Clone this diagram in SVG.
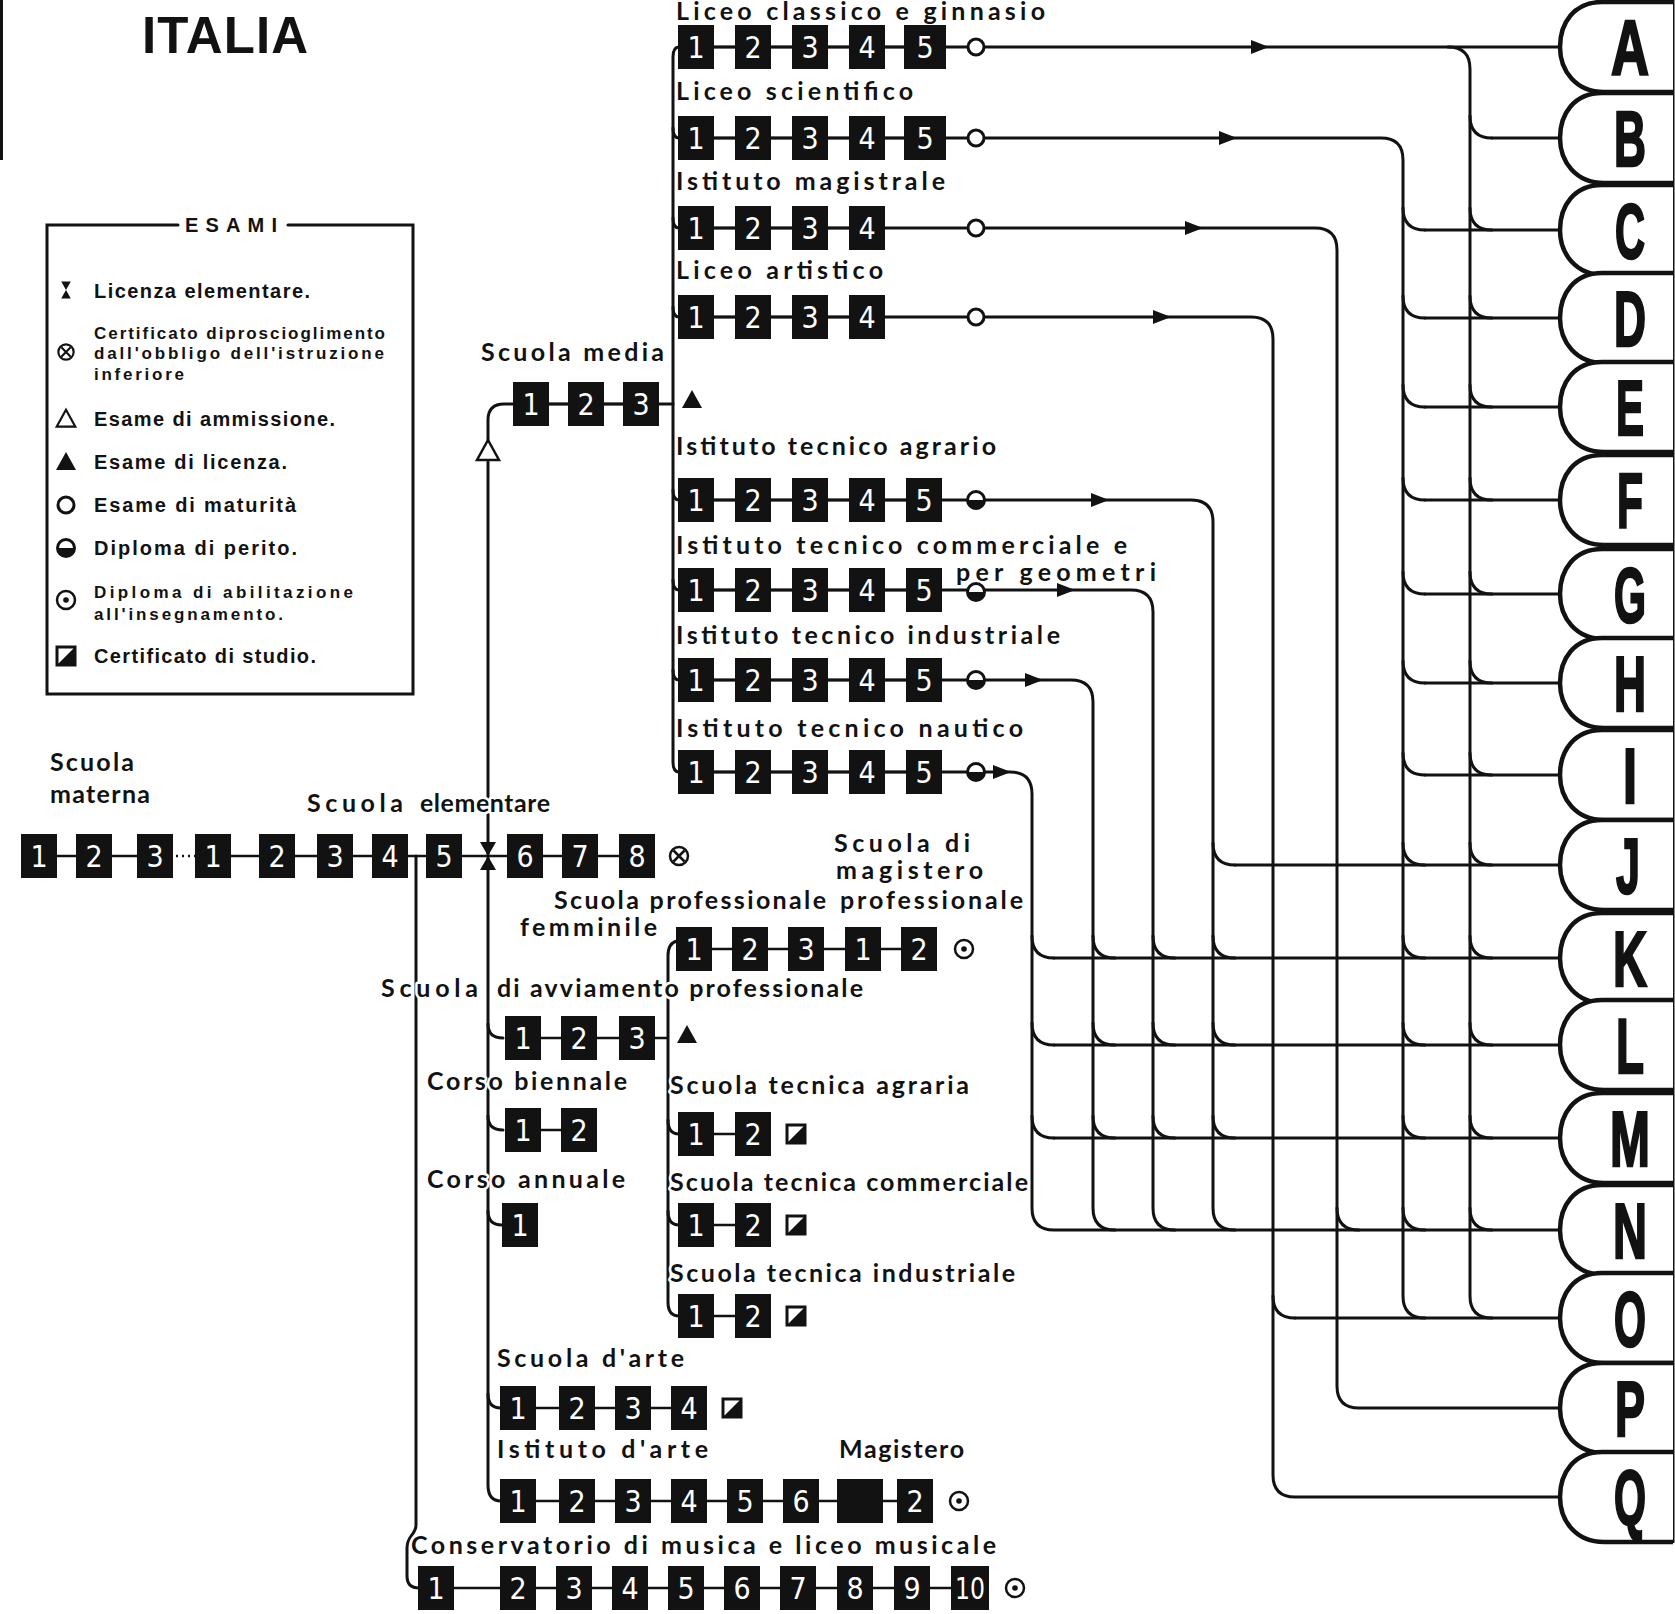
<svg xmlns="http://www.w3.org/2000/svg" xmlns:xlink="http://www.w3.org/1999/xlink" width="1675" height="1614" viewBox="0 0 1675 1614">
<style>
.b{fill:#121212}
.n{fill:#fff;font-family:"Liberation Sans Narrow","DejaVu Sans Condensed","Liberation Sans",sans-serif;font-size:30px;text-anchor:middle}
.l{fill:#121212;font-family:"Lato","Liberation Sans",sans-serif;font-weight:bold;font-size:25px;paint-order:stroke;stroke:#fff;stroke-width:5px;stroke-linejoin:round}
.lg{fill:#121212;font-family:"Liberation Sans",sans-serif;font-weight:bold;font-size:20px}
.lgs{fill:#121212;font-family:"Liberation Sans",sans-serif;font-weight:bold;font-size:17px}
.c{fill:none;stroke:#121212;stroke-width:3;stroke-linecap:round}
.k{fill:none;stroke:#121212;stroke-width:2.5}
.tab{fill:#fff;stroke:#121212;stroke-width:4.5}
.tl{fill:#121212;stroke:#121212;stroke-width:2.5;font-family:"Liberation Sans",sans-serif;font-weight:bold;font-size:78px;text-anchor:middle}
</style>
<defs>
<circle id="mat" r="8" fill="#fff" stroke="#121212" stroke-width="3"/>
<g id="per"><circle r="8.5" fill="#fff" stroke="#121212" stroke-width="3"/><path d="M-8.5,0 A8.5,8.5 0 0 0 8.5,0 Z" fill="#121212"/></g>
<g id="abi"><circle r="9" fill="#fff" stroke="#121212" stroke-width="2.5"/><circle r="2.8" fill="#121212"/></g>
<g id="pro"><circle r="9" fill="#fff" stroke="#121212" stroke-width="2.5"/><path d="M-5.5,-5.5 L5.5,5.5 M5.5,-5.5 L-5.5,5.5" stroke="#121212" stroke-width="2.5"/></g>
<g id="cer"><rect x="-9" y="-9" width="18" height="18" fill="#fff" stroke="#121212" stroke-width="3"/><path d="M9,-9 L9,9 L-9,9 Z" fill="#121212"/></g>
<path id="amm" d="M0,-11 L11,9 L-11,9 Z" fill="#fff" stroke="#121212" stroke-width="2.5"/>
<path id="lic" d="M0,-10 L10,8 L-10,8 Z" fill="#121212"/>
<path id="hg" d="M-8,-14 H8 L0,0 Z M-8,14 H8 L0,0 Z" fill="#121212"/>
<path id="ar" d="M-9,-7 L9,0 L-9,7 Z" fill="#121212"/>
</defs>
<rect width="1675" height="1614" fill="#fff"/>
<line x1="1.5" y1="0" x2="1.5" y2="160" stroke="#121212" stroke-width="3"/>

<g id="title"><text x="142" y="53" font-family="Liberation Sans,sans-serif" font-weight="bold" font-size="51" fill="#121212" textLength="166">ITALIA</text></g>

<g id="legend">
<path class="c" d="M178,225 H47 V694 H413 V225 H288"/>
<text class="lg" x="185" y="232" textLength="92">ESAMI</text>
<use href="#hg" transform="translate(66,290) scale(0.6)"/>
<text class="lg" x="94" y="298" textLength="216">Licenza elementare.</text>
<use href="#pro" transform="translate(66,352) scale(0.85)"/>
<text class="lgs" x="94" y="339" textLength="291">Certificato diproscioglimento</text>
<text class="lgs" x="94" y="359" textLength="290">dall'obbligo dell'istruzione</text>
<text class="lgs" x="94" y="380" textLength="90">inferiore</text>
<use href="#amm" transform="translate(66,419) scale(0.85)"/>
<text class="lg" x="94" y="426" textLength="241">Esame di ammissione.</text>
<use href="#lic" transform="translate(66,462)"/>
<text class="lg" x="94" y="469" textLength="193">Esame di licenza.</text>
<use href="#mat" x="66" y="505"/>
<text class="lg" x="94" y="512" textLength="202">Esame di maturità</text>
<use href="#per" x="66" y="548"/>
<text class="lg" x="94" y="555" textLength="203">Diploma di perito.</text>
<use href="#abi" x="66" y="600"/>
<text class="lgs" x="94" y="598" textLength="259">Diploma di abilitazione</text>
<text class="lgs" x="94" y="620" textLength="189">all'insegnamento.</text>
<use href="#cer" x="66" y="656"/>
<text class="lg" x="94" y="663" textLength="222">Certificato di studio.</text>
</g>

<g id="connectors">
<path class="c" d="M696,47 H1560"/>
<path class="c" d="M1448,47 Q1470,47 1470,69 V1296 Q1470,1318 1492,1318"/>
<path class="c" d="M696,138 H1381 Q1403,138 1403,160 V1296 Q1403,1318 1425,1318"/>
<path class="c" d="M696,228 H1315 Q1337,228 1337,250 V1386 Q1337,1408 1359,1408 H1560"/>
<path class="c" d="M696,317 H1251 Q1273,317 1273,339 V1475 Q1273,1497 1295,1497 H1560"/>
<path class="c" d="M696,500 H1191 Q1213,500 1213,522 V1208 Q1213,1230 1235,1230"/>
<path class="c" d="M696,590 H1131 Q1153,590 1153,612 V1208 Q1153,1230 1175,1230"/>
<path class="c" d="M696,680 H1071 Q1093,680 1093,702 V1208 Q1093,1230 1115,1230"/>
<path class="c" d="M696,772 H1010 Q1032,772 1032,794 V1208 Q1032,1230 1054,1230 H1560"/>
<path class="c" d="M1492,138 H1560 M1425,230 H1560 M1425,318 H1560 M1425,407 H1560 M1425,500 H1560 M1425,594 H1560 M1425,683 H1560 M1425,775 H1560 M1235,865 H1560 M1054,958 H1560 M1054,1045 H1560 M1054,1138 H1560 M1295,1318 H1560"/>
<path class="c" d="M1470,116 Q1470,138 1492,138 M1470,208 Q1470,230 1492,230 M1470,296 Q1470,318 1492,318 M1470,385 Q1470,407 1492,407 M1470,478 Q1470,500 1492,500 M1470,572 Q1470,594 1492,594 M1470,661 Q1470,683 1492,683 M1470,753 Q1470,775 1492,775 M1470,843 Q1470,865 1492,865 M1470,936 Q1470,958 1492,958 M1470,1023 Q1470,1045 1492,1045 M1470,1116 Q1470,1138 1492,1138 M1470,1208 Q1470,1230 1492,1230"/>
<path class="c" d="M1403,208 Q1403,230 1425,230 M1403,296 Q1403,318 1425,318 M1403,385 Q1403,407 1425,407 M1403,478 Q1403,500 1425,500 M1403,572 Q1403,594 1425,594 M1403,661 Q1403,683 1425,683 M1403,753 Q1403,775 1425,775 M1403,843 Q1403,865 1425,865 M1403,936 Q1403,958 1425,958 M1403,1023 Q1403,1045 1425,1045 M1403,1116 Q1403,1138 1425,1138 M1403,1208 Q1403,1230 1425,1230"/>
<path class="c" d="M1337,1208 Q1337,1230 1359,1230 M1273,1296 Q1273,1318 1295,1318"/>
<path class="c" d="M1213,843 Q1213,865 1235,865 M1213,936 Q1213,958 1235,958 M1213,1023 Q1213,1045 1235,1045 M1213,1116 Q1213,1138 1235,1138"/>
<path class="c" d="M1153,936 Q1153,958 1175,958 M1153,1023 Q1153,1045 1175,1045 M1153,1116 Q1153,1138 1175,1138"/>
<path class="c" d="M1093,936 Q1093,958 1115,958 M1093,1023 Q1093,1045 1115,1045 M1093,1116 Q1093,1138 1115,1138"/>
<path class="c" d="M1032,936 Q1032,958 1054,958 M1032,1023 Q1032,1045 1054,1045 M1032,1116 Q1032,1138 1054,1138"/>
<use href="#ar" x="1260" y="47"/>
<use href="#ar" x="1228" y="138"/>
<use href="#ar" x="1194" y="228"/>
<use href="#ar" x="1162" y="317"/>
<use href="#ar" x="1100" y="500"/>
<use href="#ar" x="1066" y="590"/>
<use href="#ar" x="1034" y="680"/>
<use href="#ar" x="1002" y="772"/>
<path class="c" d="M679,47 Q673,47 673,57 V762 Q673,772 679,772"/>
<path class="c" d="M673,128 Q673,138 679,138 M673,218 Q673,228 679,228 M673,307 Q673,317 679,317 M673,490 Q673,500 679,500 M673,580 Q673,590 679,590 M673,670 Q673,680 679,680"/>
<path class="c" d="M531,404 H673"/>
<path class="k" d="M39,856 H173 M213,856 H637"/>
<path class="k" d="M176,856 H195" stroke-dasharray="2 4"/>
<path class="c" d="M416,856 V1525 C416,1535 407,1535 407,1548 V1576 Q407,1588 419,1588"/>
<path class="c" d="M488,440 V420 Q488,404 504,404 H513"/>
<path class="c" d="M488,462 V1485 Q488,1501 501,1501"/>
<path class="c" d="M488,1024 Q488,1038 503,1038 M488,1116 Q488,1130 503,1130 M488,1211 Q488,1225 502,1225 M488,1394 Q488,1408 501,1408"/>
<path class="k" d="M523,1038 H668 M523,1130 H579"/>
<path class="c" d="M677,941 Q668,943 668,956 V1302 Q668,1316 679,1316"/>
<path class="c" d="M668,1120 Q668,1134 679,1134 M668,1211 Q668,1225 679,1225"/>
<path class="k" d="M694,949 H919 M696,1134 H753 M696,1225 H753 M696,1316 H753 M518,1408 H689 M518,1501 H915 M436,1588 H970"/>
<path class="k" d="M696,47 H924 M696,138 H924 M696,228 H867 M696,317 H867 M696,500 H924 M696,590 H924 M696,680 H924 M696,772 H924 M531,404 H641"/>
</g>

<g id="liceo-classico">
<text class="l" x="676" y="20" font-size="19" textLength="369">Liceo classico e ginnasio</text>
<rect class="b" x="678" y="25" width="36" height="44"/><text class="n" x="696" y="58">1</text>
<rect class="b" x="735" y="25" width="36" height="44"/><text class="n" x="753" y="58">2</text>
<rect class="b" x="792" y="25" width="36" height="44"/><text class="n" x="810" y="58">3</text>
<rect class="b" x="849" y="25" width="36" height="44"/><text class="n" x="867" y="58">4</text>
<rect class="b" x="904" y="25" width="42" height="44"/><text class="n" x="925" y="58">5</text>
<use href="#mat" x="976" y="47"/>
</g>
<g id="liceo-scientifico">
<text class="l" x="676" y="100" textLength="237">Liceo scientifico</text>
<rect class="b" x="678" y="116" width="36" height="44"/><text class="n" x="696" y="149">1</text>
<rect class="b" x="735" y="116" width="36" height="44"/><text class="n" x="753" y="149">2</text>
<rect class="b" x="792" y="116" width="36" height="44"/><text class="n" x="810" y="149">3</text>
<rect class="b" x="849" y="116" width="36" height="44"/><text class="n" x="867" y="149">4</text>
<rect class="b" x="904" y="116" width="42" height="44"/><text class="n" x="925" y="149">5</text>
<use href="#mat" x="976" y="138"/>
</g>
<g id="istituto-magistrale">
<text class="l" x="676" y="190" textLength="269">Istituto magistrale</text>
<rect class="b" x="678" y="206" width="36" height="44"/><text class="n" x="696" y="239">1</text>
<rect class="b" x="735" y="206" width="36" height="44"/><text class="n" x="753" y="239">2</text>
<rect class="b" x="792" y="206" width="36" height="44"/><text class="n" x="810" y="239">3</text>
<rect class="b" x="849" y="206" width="36" height="44"/><text class="n" x="867" y="239">4</text>
<use href="#mat" x="976" y="228"/>
</g>
<g id="liceo-artistico">
<text class="l" x="676" y="279" textLength="207">Liceo artistico</text>
<rect class="b" x="678" y="295" width="36" height="44"/><text class="n" x="696" y="328">1</text>
<rect class="b" x="735" y="295" width="36" height="44"/><text class="n" x="753" y="328">2</text>
<rect class="b" x="792" y="295" width="36" height="44"/><text class="n" x="810" y="328">3</text>
<rect class="b" x="849" y="295" width="36" height="44"/><text class="n" x="867" y="328">4</text>
<use href="#mat" x="976" y="317"/>
</g>
<g id="scuola-media">
<text class="l" x="481" y="361" textLength="183">Scuola media</text>
<rect class="b" x="513" y="382" width="36" height="44"/><text class="n" x="531" y="415">1</text>
<rect class="b" x="568" y="382" width="36" height="44"/><text class="n" x="586" y="415">2</text>
<rect class="b" x="623" y="382" width="36" height="44"/><text class="n" x="641" y="415">3</text>
<use href="#lic" x="692" y="400"/>
<use href="#amm" x="488" y="451"/>
</g>
<g id="tecnico-agrario">
<text class="l" x="676" y="455" textLength="320">Istituto tecnico agrario</text>
<rect class="b" x="678" y="478" width="36" height="44"/><text class="n" x="696" y="511">1</text>
<rect class="b" x="735" y="478" width="36" height="44"/><text class="n" x="753" y="511">2</text>
<rect class="b" x="792" y="478" width="36" height="44"/><text class="n" x="810" y="511">3</text>
<rect class="b" x="849" y="478" width="36" height="44"/><text class="n" x="867" y="511">4</text>
<rect class="b" x="906" y="478" width="36" height="44"/><text class="n" x="924" y="511">5</text>
<use href="#per" x="976" y="500"/>
</g>
<g id="tecnico-commerciale">
<text class="l" x="676" y="554" textLength="451">Istituto tecnico commerciale e</text>
<text class="l" x="956" y="581" font-size="24" textLength="200">per geometri</text>
<rect class="b" x="678" y="568" width="36" height="44"/><text class="n" x="696" y="601">1</text>
<rect class="b" x="735" y="568" width="36" height="44"/><text class="n" x="753" y="601">2</text>
<rect class="b" x="792" y="568" width="36" height="44"/><text class="n" x="810" y="601">3</text>
<rect class="b" x="849" y="568" width="36" height="44"/><text class="n" x="867" y="601">4</text>
<rect class="b" x="906" y="568" width="36" height="44"/><text class="n" x="924" y="601">5</text>
<use href="#per" x="976" y="592"/>
</g>
<g id="tecnico-industriale">
<text class="l" x="676" y="644" textLength="384">Istituto tecnico industriale</text>
<rect class="b" x="678" y="658" width="36" height="44"/><text class="n" x="696" y="691">1</text>
<rect class="b" x="735" y="658" width="36" height="44"/><text class="n" x="753" y="691">2</text>
<rect class="b" x="792" y="658" width="36" height="44"/><text class="n" x="810" y="691">3</text>
<rect class="b" x="849" y="658" width="36" height="44"/><text class="n" x="867" y="691">4</text>
<rect class="b" x="906" y="658" width="36" height="44"/><text class="n" x="924" y="691">5</text>
<use href="#per" x="976" y="680"/>
</g>
<g id="tecnico-nautico">
<text class="l" x="676" y="737" textLength="347">Istituto tecnico nautico</text>
<rect class="b" x="678" y="750" width="36" height="44"/><text class="n" x="696" y="783">1</text>
<rect class="b" x="735" y="750" width="36" height="44"/><text class="n" x="753" y="783">2</text>
<rect class="b" x="792" y="750" width="36" height="44"/><text class="n" x="810" y="783">3</text>
<rect class="b" x="849" y="750" width="36" height="44"/><text class="n" x="867" y="783">4</text>
<rect class="b" x="906" y="750" width="36" height="44"/><text class="n" x="924" y="783">5</text>
<use href="#per" x="976" y="772"/>
</g>

<g id="scuola-materna">
<text class="l" x="50" y="771" textLength="84">Scuola</text>
<text class="l" x="50" y="803" textLength="100">materna</text>
<rect class="b" x="21" y="834" width="36" height="44"/><text class="n" x="39" y="867">1</text>
<rect class="b" x="76" y="834" width="36" height="44"/><text class="n" x="94" y="867">2</text>
<rect class="b" x="137" y="834" width="36" height="44"/><text class="n" x="155" y="867">3</text>
</g>
<g id="scuola-elementare">
<text class="l" y="812"><tspan x="307" textLength="96">Scuola</tspan><tspan x="420" textLength="130">elementare</tspan></text>
<rect class="b" x="195" y="834" width="36" height="44"/><text class="n" x="213" y="867">1</text>
<rect class="b" x="259" y="834" width="36" height="44"/><text class="n" x="277" y="867">2</text>
<rect class="b" x="317" y="834" width="36" height="44"/><text class="n" x="335" y="867">3</text>
<rect class="b" x="372" y="834" width="36" height="44"/><text class="n" x="390" y="867">4</text>
<rect class="b" x="426" y="834" width="36" height="44"/><text class="n" x="444" y="867">5</text>
<use href="#hg" x="488" y="856"/>
<rect class="b" x="507" y="834" width="36" height="44"/><text class="n" x="525" y="867">6</text>
<rect class="b" x="562" y="834" width="36" height="44"/><text class="n" x="580" y="867">7</text>
<rect class="b" x="619" y="834" width="36" height="44"/><text class="n" x="637" y="867">8</text>
<use href="#pro" x="679" y="856"/>
</g>
<g id="scuola-professionale-femminile">
<text class="l" x="554" y="909" font-size="24" textLength="272">Scuola professionale</text>
<text class="l" x="520" y="936" font-size="24" textLength="137">femminile</text>
<rect class="b" x="676" y="927" width="36" height="44"/><text class="n" x="694" y="960">1</text>
<rect class="b" x="732" y="927" width="36" height="44"/><text class="n" x="750" y="960">2</text>
<rect class="b" x="788" y="927" width="36" height="44"/><text class="n" x="806" y="960">3</text>
</g>
<g id="scuola-magistero-professionale">
<text class="l" x="834" y="852" font-size="24" textLength="136">Scuola di</text>
<text class="l" x="836" y="879" font-size="24" textLength="147">magistero</text>
<text class="l" x="840" y="909" font-size="24" textLength="183">professionale</text>
<rect class="b" x="845" y="927" width="36" height="44"/><text class="n" x="863" y="960">1</text>
<rect class="b" x="901" y="927" width="36" height="44"/><text class="n" x="919" y="960">2</text>
<use href="#abi" x="964" y="949"/>
</g>
<g id="scuola-avviamento">
<text class="l" y="997"><tspan x="381" textLength="97">Scuola</tspan><tspan x="497" textLength="366">di avviamento professionale</tspan></text>
<rect class="b" x="505" y="1016" width="36" height="44"/><text class="n" x="523" y="1049">1</text>
<rect class="b" x="561" y="1016" width="36" height="44"/><text class="n" x="579" y="1049">2</text>
<rect class="b" x="619" y="1016" width="36" height="44"/><text class="n" x="637" y="1049">3</text>
<use href="#lic" x="687" y="1035"/>
</g>
<g id="corso-biennale">
<text class="l" x="427" y="1090" textLength="200">Corso biennale</text>
<rect class="b" x="505" y="1108" width="36" height="44"/><text class="n" x="523" y="1141">1</text>
<rect class="b" x="561" y="1108" width="36" height="44"/><text class="n" x="579" y="1141">2</text>
</g>
<g id="corso-annuale">
<text class="l" x="427" y="1188" textLength="198">Corso annuale</text>
<rect class="b" x="502" y="1203" width="36" height="44"/><text class="n" x="520" y="1236">1</text>
</g>
<g id="tecnica-agraria">
<text class="l" x="670" y="1094" textLength="299">Scuola tecnica agraria</text>
<rect class="b" x="678" y="1112" width="36" height="44"/><text class="n" x="696" y="1145">1</text>
<rect class="b" x="735" y="1112" width="36" height="44"/><text class="n" x="753" y="1145">2</text>
<use href="#cer" x="796" y="1134"/>
</g>
<g id="tecnica-commerciale">
<text class="l" x="670" y="1191" textLength="358">Scuola tecnica commerciale</text>
<rect class="b" x="678" y="1203" width="36" height="44"/><text class="n" x="696" y="1236">1</text>
<rect class="b" x="735" y="1203" width="36" height="44"/><text class="n" x="753" y="1236">2</text>
<use href="#cer" x="796" y="1225"/>
</g>
<g id="tecnica-industriale">
<text class="l" x="670" y="1282" textLength="345">Scuola tecnica industriale</text>
<rect class="b" x="678" y="1294" width="36" height="44"/><text class="n" x="696" y="1327">1</text>
<rect class="b" x="735" y="1294" width="36" height="44"/><text class="n" x="753" y="1327">2</text>
<use href="#cer" x="796" y="1316"/>
</g>
<g id="scuola-arte">
<text class="l" x="497" y="1367" textLength="187">Scuola d'arte</text>
<rect class="b" x="500" y="1386" width="36" height="44"/><text class="n" x="518" y="1419">1</text>
<rect class="b" x="559" y="1386" width="36" height="44"/><text class="n" x="577" y="1419">2</text>
<rect class="b" x="615" y="1386" width="36" height="44"/><text class="n" x="633" y="1419">3</text>
<rect class="b" x="671" y="1386" width="36" height="44"/><text class="n" x="689" y="1419">4</text>
<use href="#cer" x="732" y="1408"/>
</g>
<g id="istituto-arte">
<text class="l" x="497" y="1458" textLength="211">Istituto d'arte</text>
<rect class="b" x="500" y="1479" width="36" height="44"/><text class="n" x="518" y="1512">1</text>
<rect class="b" x="559" y="1479" width="36" height="44"/><text class="n" x="577" y="1512">2</text>
<rect class="b" x="615" y="1479" width="36" height="44"/><text class="n" x="633" y="1512">3</text>
<rect class="b" x="671" y="1479" width="36" height="44"/><text class="n" x="689" y="1512">4</text>
<rect class="b" x="727" y="1479" width="36" height="44"/><text class="n" x="745" y="1512">5</text>
<rect class="b" x="783" y="1479" width="36" height="44"/><text class="n" x="801" y="1512">6</text>
</g>
<g id="magistero">
<text class="l" x="839" y="1458" textLength="125">Magistero</text>
<rect class="b" x="837" y="1479" width="46" height="44"/>
<rect class="b" x="897" y="1479" width="36" height="44"/><text class="n" x="915" y="1512">2</text>
<use href="#abi" x="959" y="1501"/>
</g>
<g id="conservatorio">
<text class="l" x="411" y="1554" textLength="585">Conservatorio di musica e liceo musicale</text>
<rect class="b" x="418" y="1566" width="36" height="44"/><text class="n" x="436" y="1599">1</text>
<rect class="b" x="500" y="1566" width="36" height="44"/><text class="n" x="518" y="1599">2</text>
<rect class="b" x="556" y="1566" width="36" height="44"/><text class="n" x="574" y="1599">3</text>
<rect class="b" x="612" y="1566" width="36" height="44"/><text class="n" x="630" y="1599">4</text>
<rect class="b" x="668" y="1566" width="36" height="44"/><text class="n" x="686" y="1599">5</text>
<rect class="b" x="724" y="1566" width="36" height="44"/><text class="n" x="742" y="1599">6</text>
<rect class="b" x="780" y="1566" width="36" height="44"/><text class="n" x="798" y="1599">7</text>
<rect class="b" x="837" y="1566" width="36" height="44"/><text class="n" x="855" y="1599">8</text>
<rect class="b" x="894" y="1566" width="36" height="44"/><text class="n" x="912" y="1599">9</text>
<rect class="b" x="951" y="1566" width="38" height="44"/><text class="n" x="970" y="1599" textLength="30" lengthAdjust="spacingAndGlyphs">10</text>
<use href="#abi" x="1015" y="1588"/>
</g>

<g id="tabs">
<line x1="1672" y1="0" x2="1672" y2="1543" stroke="#121212" stroke-width="5"/>
<g id="tab-A"><path class="tab" d="M1673,2 H1602 C1574,2 1560,23 1560,47 C1560,71 1576,92 1604,92 H1673"/><text class="tl" x="1630" y="75" textLength="38" lengthAdjust="spacingAndGlyphs">A</text></g>
<g id="tab-B"><path class="tab" d="M1673,93 H1602 C1574,93 1560,114 1560,138 C1560,162 1576,183 1604,183 H1673"/><text class="tl" x="1630" y="166" textLength="32" lengthAdjust="spacingAndGlyphs">B</text></g>
<g id="tab-C"><path class="tab" d="M1673,185 H1602 C1574,185 1560,206 1560,230 C1560,254 1576,275 1604,275 H1673"/><text class="tl" x="1630" y="258" textLength="30" lengthAdjust="spacingAndGlyphs">C</text></g>
<g id="tab-D"><path class="tab" d="M1673,273 H1602 C1574,273 1560,294 1560,318 C1560,342 1576,363 1604,363 H1673"/><text class="tl" x="1630" y="346" textLength="32" lengthAdjust="spacingAndGlyphs">D</text></g>
<g id="tab-E"><path class="tab" d="M1673,362 H1602 C1574,362 1560,383 1560,407 C1560,431 1576,452 1604,452 H1673"/><text class="tl" x="1630" y="435" textLength="28" lengthAdjust="spacingAndGlyphs">E</text></g>
<g id="tab-F"><path class="tab" d="M1673,455 H1602 C1574,455 1560,476 1560,500 C1560,524 1576,545 1604,545 H1673"/><text class="tl" x="1630" y="528" textLength="26" lengthAdjust="spacingAndGlyphs">F</text></g>
<g id="tab-G"><path class="tab" d="M1673,549 H1602 C1574,549 1560,570 1560,594 C1560,618 1576,639 1604,639 H1673"/><text class="tl" x="1630" y="622" textLength="32" lengthAdjust="spacingAndGlyphs">G</text></g>
<g id="tab-H"><path class="tab" d="M1673,638 H1602 C1574,638 1560,659 1560,683 C1560,707 1576,728 1604,728 H1673"/><text class="tl" x="1630" y="711" textLength="32" lengthAdjust="spacingAndGlyphs">H</text></g>
<g id="tab-I"><path class="tab" d="M1673,730 H1602 C1574,730 1560,751 1560,775 C1560,799 1576,820 1604,820 H1673"/><text class="tl" x="1630" y="803" textLength="14" lengthAdjust="spacingAndGlyphs">I</text></g>
<g id="tab-J"><path class="tab" d="M1673,820 H1602 C1574,820 1560,841 1560,865 C1560,889 1576,910 1604,910 H1673"/><text class="tl" x="1628" y="893" textLength="24" lengthAdjust="spacingAndGlyphs">J</text></g>
<g id="tab-K"><path class="tab" d="M1673,913 H1602 C1574,913 1560,934 1560,958 C1560,982 1576,1003 1604,1003 H1673"/><text class="tl" x="1630" y="986" textLength="34" lengthAdjust="spacingAndGlyphs">K</text></g>
<g id="tab-L"><path class="tab" d="M1673,1000 H1602 C1574,1000 1560,1021 1560,1045 C1560,1069 1576,1090 1604,1090 H1673"/><text class="tl" x="1630" y="1073" textLength="28" lengthAdjust="spacingAndGlyphs">L</text></g>
<g id="tab-M"><path class="tab" d="M1673,1093 H1602 C1574,1093 1560,1114 1560,1138 C1560,1162 1576,1183 1604,1183 H1673"/><text class="tl" x="1630" y="1166" textLength="40" lengthAdjust="spacingAndGlyphs">M</text></g>
<g id="tab-N"><path class="tab" d="M1673,1185 H1602 C1574,1185 1560,1206 1560,1230 C1560,1254 1576,1275 1604,1275 H1673"/><text class="tl" x="1630" y="1258" textLength="34" lengthAdjust="spacingAndGlyphs">N</text></g>
<g id="tab-O"><path class="tab" d="M1673,1273 H1602 C1574,1273 1560,1294 1560,1318 C1560,1342 1576,1363 1604,1363 H1673"/><text class="tl" x="1630" y="1346" textLength="32" lengthAdjust="spacingAndGlyphs">O</text></g>
<g id="tab-P"><path class="tab" d="M1673,1363 H1602 C1574,1363 1560,1384 1560,1408 C1560,1432 1576,1453 1604,1453 H1673"/><text class="tl" x="1630" y="1436" textLength="30" lengthAdjust="spacingAndGlyphs">P</text></g>
<g id="tab-Q"><path class="tab" d="M1673,1452 H1602 C1574,1452 1560,1473 1560,1497 C1560,1521 1576,1542 1604,1542 H1673"/><text class="tl" x="1630" y="1525" textLength="32" lengthAdjust="spacingAndGlyphs">Q</text></g>
</g>
</svg>
